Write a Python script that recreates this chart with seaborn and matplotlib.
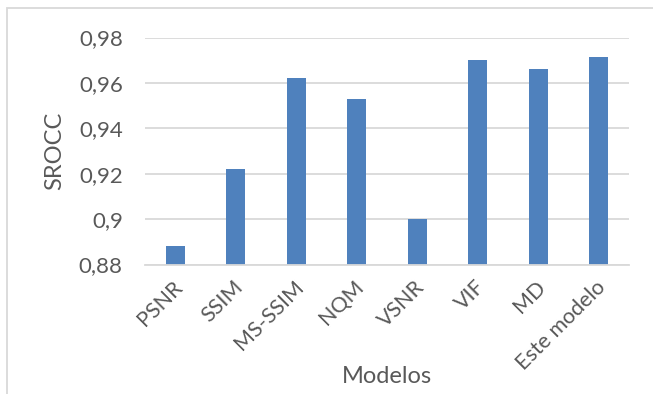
import matplotlib
matplotlib.use("Agg")
import matplotlib.pyplot as plt
import matplotlib.transforms as mtransforms
from matplotlib.patches import Rectangle
import pandas as pd
import seaborn as sns

# SROCC per quality model
modelos = ["PSNR", "SSIM", "MS-SSIM", "NQM", "VSNR", "VIF", "MD", "Este modelo"]
srocc = [0.888, 0.922, 0.962, 0.953, 0.900, 0.970, 0.966, 0.9715]

y_ticks = [0.88, 0.90, 0.92, 0.94, 0.96, 0.98]
y_tick_labels = ["0,88", "0,9", "0,92", "0,94", "0,96", "0,98"]

df = pd.DataFrame({"Modelos": modelos, "SROCC": srocc})

sns.set_theme(style="white")
plt.rcParams["font.family"] = ["Lato", "DejaVu Sans"]

W, H = 653, 394
fig = plt.figure(figsize=(W / 100, H / 100), dpi=100)
fig.patch.set_facecolor("white")

# axes box in pixel coordinates
left, right, top, bottom = 145, 629, 37.5, 264.5
ax = fig.add_axes([left / W, 1 - bottom / H, (right - left) / W, (bottom - top) / H])

sns.barplot(data=df, x="Modelos", y="SROCC", color="#4F81BD", width=0.315,
            saturation=1, edgecolor="none", ax=ax)

ax.set_ylim(0.88, 0.98)
ax.set_xlim(-0.5, len(modelos) - 0.5)
ax.set_yticks(y_ticks)
ax.set_yticklabels(y_tick_labels)

ax.yaxis.grid(True, color="#D9D9D9", linewidth=1.3)
ax.set_axisbelow(True)
for side in ["top", "right", "left"]:
    ax.spines[side].set_visible(False)
ax.spines["bottom"].set_color("#D9D9D9")
ax.spines["bottom"].set_linewidth(1.3)

text_color = "#595959"
ax.tick_params(axis="y", length=0, pad=16, labelsize=16, labelcolor=text_color)
ax.tick_params(axis="x", length=0, pad=14, labelsize=15.5, labelcolor=text_color)

offset = mtransforms.ScaledTranslation(4 / 100, 0, fig.dpi_scale_trans)
for lbl in ax.get_xticklabels():
    lbl.set_rotation(45)
    lbl.set_ha("right")
    lbl.set_va("center")
    lbl.set_rotation_mode("anchor")
    lbl.set_transform(lbl.get_transform() + offset)

ax.set_xlabel("Modelos", fontsize=17, color=text_color)
ax.set_ylabel("SROCC", fontsize=17, color=text_color)
ax.xaxis.set_label_coords((387 - left) / (right - left), -(383 - bottom) / (bottom - top),
                          transform=ax.transAxes)
ax.xaxis.label.set_va("baseline")
ax.yaxis.set_label_coords(-(left - 55) / (right - left), 0.5)
ax.yaxis.label.set_va("center")

# outer chart border, continuing past the right and bottom edges
fig.patches.append(Rectangle((7 / W, -0.05), 1.1, 1 - 8 / H + 0.05,
                             transform=fig.transFigure, fill=False,
                             edgecolor="#D9D9D9", linewidth=1.3))

fig.savefig("out.png", dpi=100)
